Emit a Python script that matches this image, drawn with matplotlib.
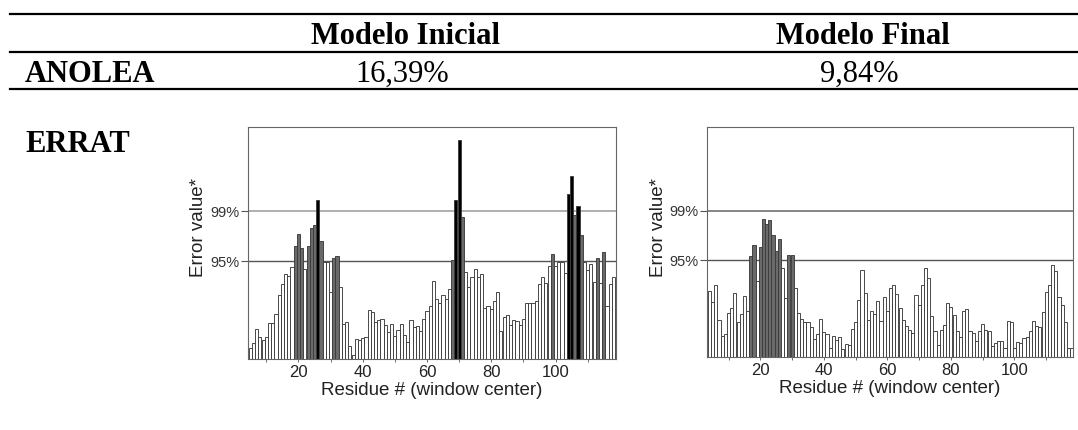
import numpy as np
import matplotlib
matplotlib.use("Agg")
import matplotlib.pyplot as plt
from matplotlib.lines import Line2D

# table values
col_headers = ["Modelo Inicial", "Modelo Final"]
row_names = ["ANOLEA", "ERRAT"]
anolea = ["16,39%", "9,84%"]

# ERRAT error value per residue (window center)
start_ini = 5
errat_ini = [1.3, 1.85, 3.5, 2.6, 2.2, 2.6, 4.2, 4.2, 5.2, 7.5, 8.7, 9.9, 9.65, 10.7,
             13.1, 14.5, 12.9, 10.5, 13.2, 15.3, 15.6, 18.5, 13.7, 11.3, 11.3, 7.8,
             11.7, 12.0, 8.4, 4.05, 4.3, 1.5, 0.5, 2.3, 2.2, 2.4, 2.6, 5.7, 5.5, 4.3,
             4.55, 4.7, 4.0, 3.2, 4.1, 2.7, 3.4, 4.1, 2.8, 2.0, 4.55, 3.7, 3.8, 3.3,
             4.6, 5.6, 6.2, 9.1, 7.0, 6.5, 7.4, 7.0, 8.2, 11.5, 18.5, 25.5, 16.5, 10.1,
             8.4, 9.5, 10.5, 9.6, 9.85, 5.9, 6.2, 5.8, 6.8, 7.8, 3.3, 4.9, 5.1, 4.0,
             4.55, 4.4, 3.9, 4.7, 6.5, 6.5, 6.5, 6.8, 8.7, 9.6, 8.8, 10.85, 12.2, 10.85,
             11.3, 11.3, 10.0, 19.2, 21.3, 16.8, 17.8, 14.4, 11.3, 10.35, 11.0, 9.0,
             11.7, 8.8, 12.5, 6.2, 8.7, 9.6]

start_fin = 4
errat_fin = [7.8, 6.4, 8.4, 4.4, 2.5, 2.65, 5.2, 5.7, 7.5, 4.1, 5.0, 7.2, 5.4,
             11.9, 13.2, 8.9, 12.9, 16.2, 15.6, 16.1, 14.3, 12.5, 13.9, 10.5, 6.9,
             12.0, 12.0, 8.1, 5.2, 4.45, 4.1, 4.1, 3.5, 2.15, 2.7, 4.5, 2.9, 2.7, 1.05,
             2.5, 2.0, 2.35, 0.95, 1.5, 1.45, 3.3, 4.1, 6.7, 10.2, 7.5, 4.4, 5.35, 5.0,
             6.6, 4.2, 7.1, 5.4, 8.1, 8.5, 7.4, 5.7, 4.3, 3.6, 3.2, 2.8, 7.3, 6.1, 8.4,
             10.5, 9.3, 4.8, 3.1, 1.45, 3.2, 3.8, 6.3, 5.9, 4.9, 3.0, 2.4, 5.4, 5.6,
             3.0, 2.8, 1.85, 3.0, 3.9, 3.2, 3.0, 1.3, 1.65, 1.85, 1.9, 1.05, 4.2, 4.1,
             1.05, 1.75, 1.65, 2.2, 2.4, 3.1, 4.2, 3.6, 3.5, 5.3, 7.6, 8.4, 10.8, 10.1,
             7.0, 6.1, 4.1, 1.05, 1.05]

limit95 = 11.38
limit99 = 17.19
limit_labels = ["95%", "99%"]

fig = plt.figure(figsize=(10.78, 4.30), dpi=100)
serif = "Liberation Serif"
sans = "Liberation Sans"

# table rules
for yy in [0.9674, 0.8791, 0.7930]:
    fig.add_artist(Line2D([0.0093, 1.0], [yy, yy], color="black", lw=1.6))

fig.text(0.3757, 0.8977, col_headers[0], family=serif, weight="bold", size=22,
         ha="center", va="baseline")
fig.text(0.8006, 0.8977, col_headers[1], family=serif, weight="bold", size=22,
         ha="center", va="baseline")
fig.text(0.0232, 0.8093, row_names[0], family=serif, weight="bold", size=22,
         ha="left", va="baseline")
fig.text(0.3729, 0.8093, anolea[0], family=serif, size=22, ha="center", va="baseline")
fig.text(0.7968, 0.8093, anolea[1], family=serif, size=22, ha="center", va="baseline")
fig.text(0.0232, 0.6465, row_names[1], family=serif, weight="bold", size=22,
         ha="left", va="baseline")


def errat_plot(ax, start, vals, xlim, line99_color):
    res = np.arange(start, start + len(vals))
    vals = np.array(vals)
    colors = np.where(vals > limit99, "black",
                      np.where(vals > limit95, "#6a6a6a", "white"))
    ax.bar(res, vals, width=0.98, color=colors, edgecolor="#3c3c3c",
           linewidth=0.65, zorder=2)
    ax.axhline(limit95, color="#555555", lw=1.0, zorder=1)
    ax.axhline(limit99, color=line99_color, lw=1.1, zorder=1)
    ax.set_xlim(*xlim)
    ax.set_ylim(0, 27)
    ax.set_yticks([limit95, limit99])
    ax.set_yticklabels(limit_labels, family=sans, size=10.5, color="#333333")
    ax.set_xticks([20, 40, 60, 80, 100])
    ax.set_xticks([10, 30, 50, 70, 90, 110], minor=True)
    ax.tick_params(axis="x", which="both", length=2.5, width=0.6, color="#555555",
                   labelsize=12, labelcolor="#222222", pad=1.5)
    ax.tick_params(axis="y", length=5, width=0.8, color="#555555", pad=1)
    for lab in ax.get_xticklabels():
        lab.set_family(sans)
    for sp in ax.spines.values():
        sp.set_color("#666666")
        sp.set_linewidth(0.8)
    ax.set_ylabel("Error value*", family=sans, size=13.5, color="#222222")
    ax.set_xlabel("Residue # (window center)", family=sans, size=13.5, color="#222222")
    ax.yaxis.set_label_coords(-0.11, 0.565)
    ax.xaxis.set_label_coords(0.5, -0.1)


ax1 = fig.add_axes([0.2296, 0.1651, 0.3418, 0.5395])
errat_plot(ax1, start_ini, errat_ini, (4.15, 118.8), "#9a9a9a")

ax2 = fig.add_axes([0.6558, 0.1698, 0.3395, 0.5349])
errat_plot(ax2, start_fin, errat_fin, (3.2, 118.4), "#666666")

fig.savefig("out.png", dpi=100)
